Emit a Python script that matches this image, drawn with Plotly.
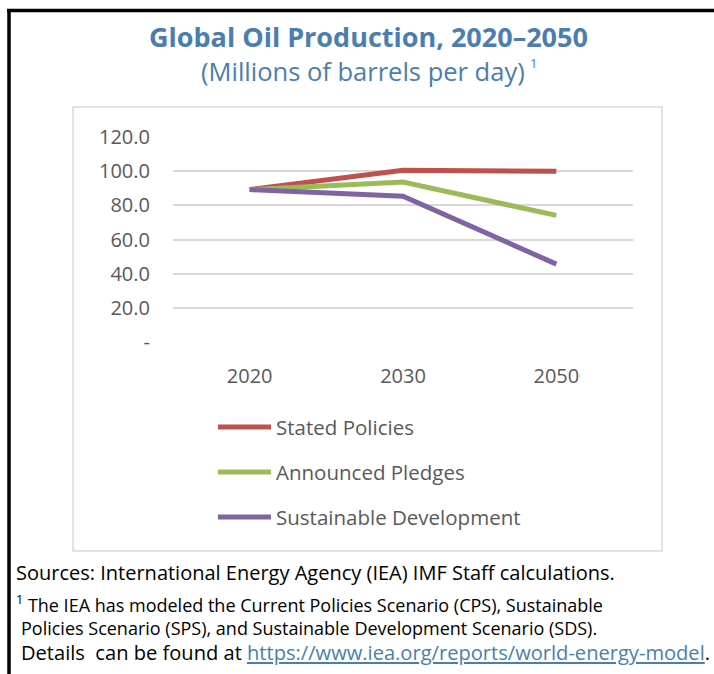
import plotly.graph_objects as go

# Global oil production by IEA scenario (millions of barrels per day)
years = ["2020", "2030", "2050"]
stated_policies = [89.2, 100.5, 99.9]
announced_pledges = [89.2, 93.6, 74.1]
sustainable_development = [89.2, 85.3, 45.6]

series_names = ["Stated Policies", "Announced Pledges", "Sustainable Development"]
series_values = [stated_policies, announced_pledges, sustainable_development]
series_colors = ["#C0504D", "#9BBB59", "#8064A2"]

y_tick_values = [0, 20, 40, 60, 80, 100, 120]
y_tick_labels = ["-", "20.0", "40.0", "60.0", "80.0", "100.0", "120.0"]

W, H = 714, 674
ML, MR, MT, MB = 173, 81, 137, 332
PW, PH = W - ML - MR, H - MT - MB


def px(x):
    return (x - ML) / PW


def py(y):
    return (H - MB - y) / PH


FONT = "Open Sans"
BLUE = "#4A7EAE"
GREY_TXT = "#595959"

fig = go.Figure()
for name, vals, col in zip(series_names, series_values, series_colors):
    fig.add_trace(go.Scatter(
        x=years, y=vals, name=name, mode="lines",
        line=dict(color=col, width=5),
        showlegend=False,
    ))

shapes = []
annotations = []

# outer black frame (top and left edges) and light chart border
shapes.append(dict(type="line", xref="paper", yref="paper",
                   x0=px(7), x1=px(W + 5), y0=py(10.5), y1=py(10.5),
                   line=dict(color="black", width=3.5)))
shapes.append(dict(type="line", xref="paper", yref="paper",
                   x0=px(9), x1=px(9), y0=py(9), y1=py(H + 5),
                   line=dict(color="black", width=3.5)))
shapes.append(dict(type="rect", xref="paper", yref="paper",
                   x0=px(73), x1=px(662), y0=py(107), y1=py(551),
                   line=dict(color="#D9D9D9", width=1.5), layer="below"))

# titles
annotations.append(dict(
    xref="paper", yref="paper", x=px(368), y=py(35.5),
    xanchor="center", yanchor="middle", showarrow=False, height=30,
    text="<b>Global Oil Production, 2020\u20132050</b>",
    font=dict(family=FONT, size=27, color=BLUE)))
annotations.append(dict(
    xref="paper", yref="paper", x=px(527), y=py(71),
    xanchor="right", yanchor="middle", showarrow=False, height=32,
    text="(Millions of barrels per day)",
    font=dict(family=FONT, size=25.5, color=BLUE)))
annotations.append(dict(
    xref="paper", yref="paper", x=px(527.5), y=py(63),
    xanchor="left", yanchor="middle", showarrow=False,
    text="1",
    font=dict(family=FONT, size=13, color=BLUE)))

# legend drawn as line samples with labels
legend_rows = [427, 472, 517]
for name, col, ly in zip(series_names, series_colors, legend_rows):
    shapes.append(dict(type="line", xref="paper", yref="paper",
                       x0=px(218), x1=px(271), y0=py(ly), y1=py(ly),
                       line=dict(color=col, width=5)))
    annotations.append(dict(
        xref="paper", yref="paper", x=px(274), y=py(ly),
        xanchor="left", yanchor="middle", showarrow=False,
        text=name, font=dict(family=FONT, size=20.5, color=GREY_TXT)))

# source and footnote
foot_lines = [
    (14, 572, 20, "Sources: International Energy Agency (IEA) IMF Staff calculations."),
    (14, 604, 18, "<sup>1</sup> The IEA has modeled the Current Policies Scenario (CPS), Sustainable"),
    (19, 628, 18, "Policies Scenario (SPS), and Sustainable Development Scenario (SDS)."),
    (19, 652, 20.1, "Details  can be found at "
                    "<a href='https://www.iea.org/reports/world-energy-model'>"
                    "<span style='color:#4A7EAE'><u>https://www.iea.org/reports/world-energy-model</u></span></a>."),
]
for fx, fy, fs, txt in foot_lines:
    annotations.append(dict(
        xref="paper", yref="paper", x=px(fx), y=py(fy),
        xanchor="left", yanchor="middle", showarrow=False,
        text=txt, font=dict(family=FONT, size=fs, color="black")))

fig.update_layout(
    width=W, height=H,
    margin=dict(l=ML, r=MR, t=MT, b=MB, pad=0),
    paper_bgcolor="white", plot_bgcolor="white",
    shapes=shapes, annotations=annotations,
    showlegend=False,
    xaxis=dict(
        type="category", range=[-0.5, 2.5],
        showgrid=False, zeroline=False, showline=False, ticks="",
        tickfont=dict(family=FONT, size=20, color=GREY_TXT),
        ticklabelstandoff=20,
    ),
    yaxis=dict(
        range=[0, 120],
        tickvals=y_tick_values, ticktext=y_tick_labels,
        showgrid=True, gridcolor="#D9D9D9", gridwidth=1.5,
        zeroline=False, showline=False, ticks="",
        tickfont=dict(family=FONT, size=20, color=GREY_TXT),
        ticklabelstandoff=22,
    ),
)

fig.write_html("out.html")
